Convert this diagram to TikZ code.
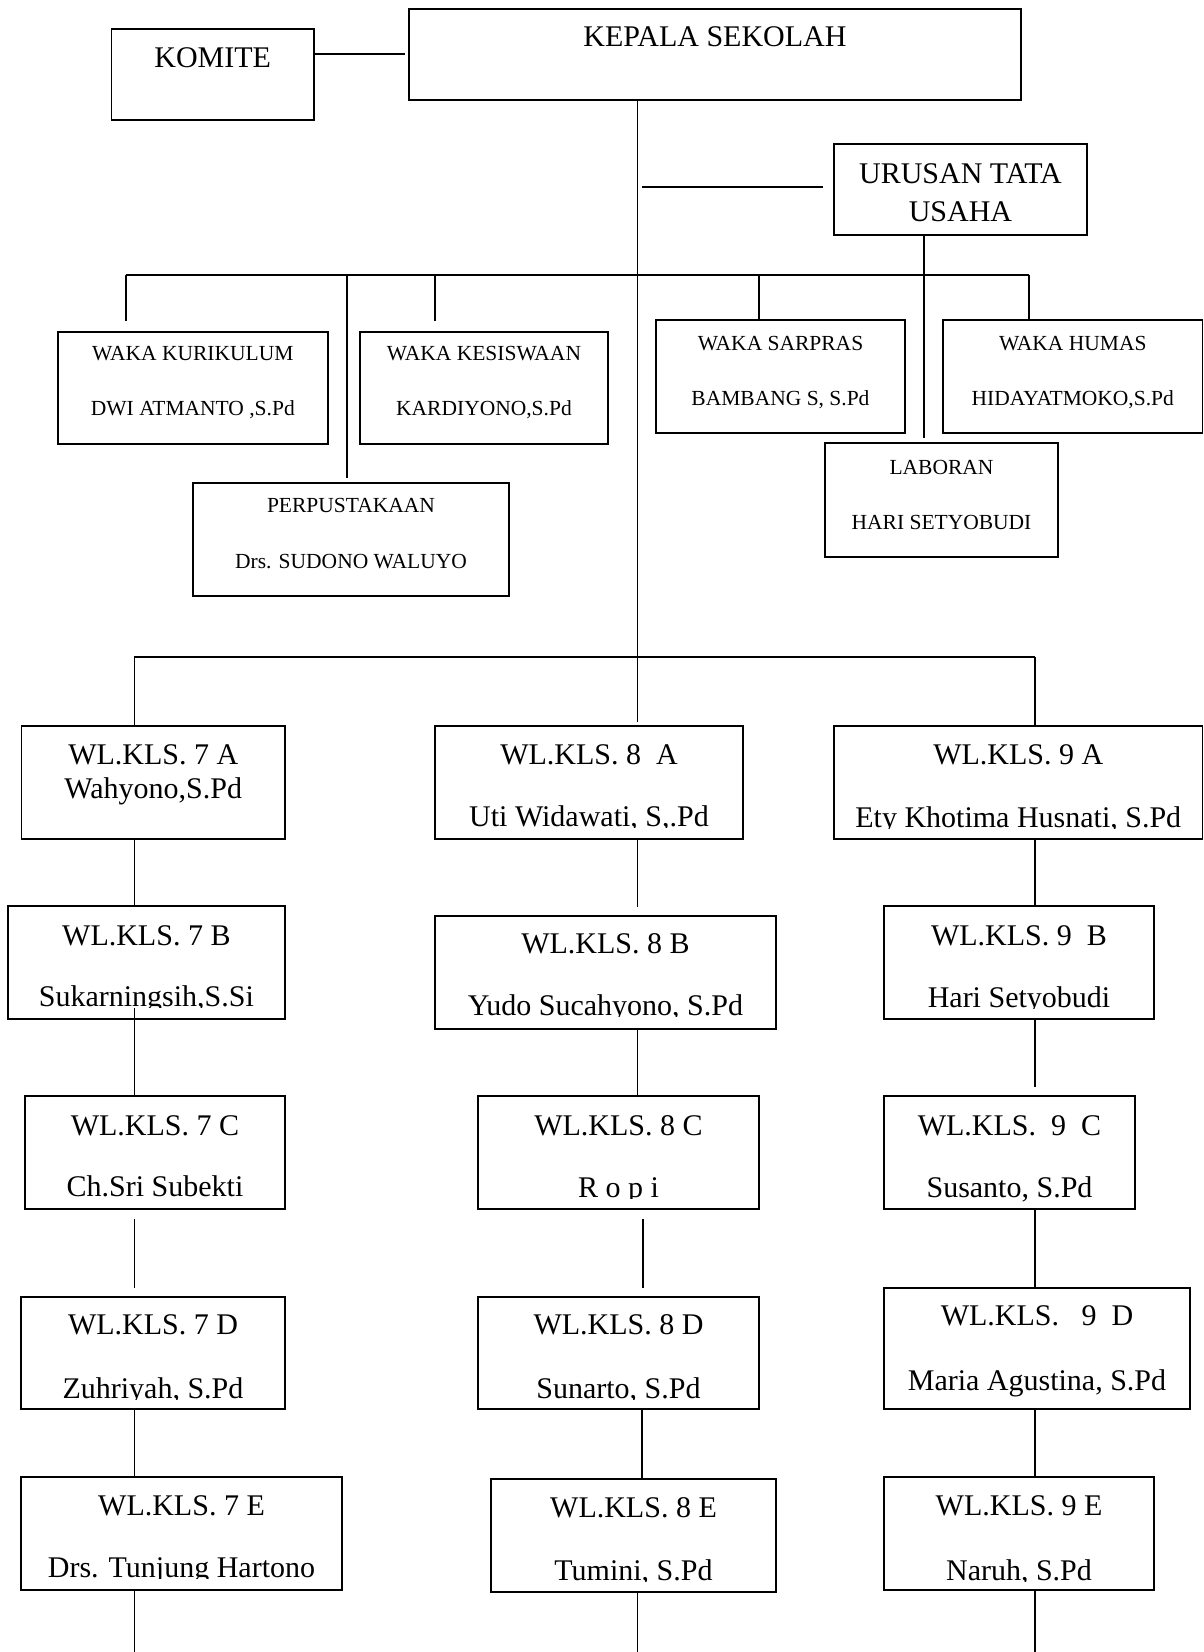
\documentclass[tikz,border=0pt]{standalone}
\usepackage{fontspec}
\setmainfont{Liberation Serif}
\newcommand{\bigf}{\fontsize{30}{36}\selectfont}
\newcommand{\smallf}{\fontsize{21.5}{26}\selectfont}
\tikzset{
  box/.style={draw=black, line width=1.8pt, inner sep=0pt, outer sep=0pt},
  conn/.style={draw=black, line width=1.3pt},
  bigt/.style={font=\bigf, inner sep=0pt},
  smallt/.style={font=\smallf, inner sep=0pt},
}
% name, x1, y1, x2, y2, clip bottom, text lines
\newcommand{\cbox}[7]{%
  \node[box, minimum width={(#4-#2)*1pt}, minimum height={(#5-#3)*1pt}] (#1) at ({(#2+#4)/2},{(#3+#5)/2}) {};
  \begin{scope}
    \clip ({#2+1},{#3+1}) rectangle ({#4-1},{#6});
    \def\cx{(#2+#4)/2}%
    #7
  \end{scope}}
\newcommand{\tl}[4]{\node[#2, anchor=base] (#1) at ({\cx},{#3}) {#4};}
\begin{document}
\begin{tikzpicture}[x=1pt,y=-1pt]
\useasboundingbox[fill=white] (0,0) rectangle (1204,1652);

% top level
\cbox{komite}{111.5}{29}{314}{120}{120}{\tl{komite-t}{bigt}{67}{KOMITE}}
\cbox{kepala}{409}{9}{1021}{100}{100}{\tl{kepala-t}{bigt}{46.7}{KEPALA SEKOLAH}}
\cbox{urusan}{834}{144}{1087}{235}{235}{\tl{urusan-a}{bigt}{183}{URUSAN TATA}\tl{urusan-b}{bigt}{221.7}{USAHA}}

% wakil
\cbox{kurik}{57.7}{332}{328}{444}{444}{\tl{kurik-a}{smallt}{360.7}{WAKA KURIKULUM}\tl{kurik-b}{smallt}{415.7}{DWI ATMANTO ,S.Pd}}
\cbox{kesis}{360}{332}{608}{444}{444}{\tl{kesis-a}{smallt}{360.7}{WAKA KESISWAAN}\tl{kesis-b}{smallt}{415.7}{KARDIYONO,S.Pd}}
\cbox{sarpras}{656}{320}{905}{433}{433}{\tl{sarpras-a}{smallt}{350}{WAKA SARPRAS}\tl{sarpras-b}{smallt}{405}{BAMBANG S, S.Pd}}
\cbox{humas}{943}{320}{1202.5}{433}{433}{\tl{humas-a}{smallt}{350}{WAKA HUMAS}\tl{humas-b}{smallt}{405}{HIDAYATMOKO,S.Pd}}
\cbox{labor}{825}{443}{1058}{557}{557}{\tl{labor-a}{smallt}{474}{LABORAN}\tl{labor-b}{smallt}{529}{HARI SETYOBUDI}}
\cbox{perpus}{193}{483}{509}{596}{596}{\tl{perpus-a}{smallt}{512.7}{PERPUSTAKAAN}\tl{perpus-b}{smallt}{568}{Drs. SUDONO WALUYO}}

% class 7
\cbox{k7a}{21.5}{726}{285}{839}{839}{\tl{k7a-a}{bigt}{764}{WL.KLS. 7 A}\tl{k7a-b}{bigt}{798}{Wahyono,S.Pd}}
\cbox{k7b}{7.7}{906}{285}{1019}{1007.7}{\tl{k7b-a}{bigt}{945}{WL.KLS. 7 B}\tl{k7b-b}{bigt}{1006.7}{Sukarningsih,S.Si}}
\cbox{k7c}{25}{1096}{285}{1209}{1209}{\tl{k7c-a}{bigt}{1135}{WL.KLS. 7 C}\tl{k7c-b}{bigt}{1196.7}{Ch.Sri Subekti}}
\cbox{k7d}{21}{1297}{285}{1409}{1399}{\tl{k7d-a}{bigt}{1334}{WL.KLS. 7 D}\tl{k7d-b}{bigt}{1398}{Zuhriyah, S.Pd}}
\cbox{k7e}{21}{1477}{342}{1590}{1578}{\tl{k7e-a}{bigt}{1515}{WL.KLS. 7 E}\tl{k7e-b}{bigt}{1577}{Drs. Tunjung Hartono}}

% class 8
\cbox{k8a}{435}{726}{743}{839}{827.7}{\tl{k8a-a}{bigt}{764}{WL.KLS. 8\ \ A}\tl{k8a-b}{bigt}{826.7}{Uti Widawati, S,.Pd}}
\cbox{k8b}{435}{916}{776}{1029}{1016}{\tl{k8b-a}{bigt}{953}{WL.KLS. 8 B}\tl{k8b-b}{bigt}{1015}{Yudo Sucahyono, S.Pd}}
\cbox{k8c}{478}{1096}{759}{1209}{1198}{\tl{k8c-a}{bigt}{1135}{WL.KLS. 8 C}\tl{k8c-b}{bigt}{1197}{R o p i}}
\cbox{k8d}{478}{1297}{759}{1409}{1399}{\tl{k8d-a}{bigt}{1334}{WL.KLS. 8 D}\tl{k8d-b}{bigt}{1398}{Sunarto, S.Pd}}
\cbox{k8e}{491}{1479}{776}{1592}{1581}{\tl{k8e-a}{bigt}{1517}{WL.KLS. 8 E}\tl{k8e-b}{bigt}{1580}{Tumini, S.Pd}}

% class 9
\cbox{k9a}{834}{726}{1202.5}{839}{828}{\tl{k9a-a}{bigt}{764}{WL.KLS. 9 A}\tl{k9a-b}{bigt}{827}{Ety Khotima Husnati, S.Pd}}
\cbox{k9b}{884}{906}{1154}{1019}{1008}{\tl{k9b-a}{bigt}{945}{WL.KLS. 9\ \ B}\tl{k9b-b}{bigt}{1007}{Hari Setyobudi}}
\cbox{k9c}{884}{1096}{1135}{1209}{1201}{\tl{k9c-a}{bigt}{1135}{WL.KLS.\ \ 9\ \ C}\tl{k9c-b}{bigt}{1197}{Susanto, S.Pd}}
\cbox{k9d}{884}{1288}{1190}{1409}{1409}{\tl{k9d-a}{bigt}{1325}{WL.KLS.\ \ \ 9\ \ D}\tl{k9d-b}{bigt}{1390}{Maria Agustina, S.Pd}}
\cbox{k9e}{884}{1477}{1154}{1590}{1581}{\tl{k9e-a}{bigt}{1515}{WL.KLS. 9 E}\tl{k9e-b}{bigt}{1580}{Naruh, S.Pd}}

% reference coordinates
\coordinate (trunk) at (637.7,0);
\coordinate (c7) at (134.3,0);
\coordinate (c9) at (1035,0);
\coordinate (ktu) at (924,0);
\coordinate (komA) at (405,54);
\coordinate (tuA) at (642,187);
\coordinate (tuB) at (823,187);
\coordinate (barL) at (126,275);
\coordinate (barR) at (1029,275);
\coordinate (dKur) at (126,321);
\coordinate (dPer) at (347,478);
\coordinate (dKes) at (435,321);
\coordinate (dLab) at (924,438);
\coordinate (dSar) at (759,275);
\coordinate (lowL) at (134.3,657);
\coordinate (lowR) at (1035,657);
\coordinate (t8a) at (637.7,722);
\coordinate (t8b) at (637.7,907);
\coordinate (s7b) at (134.3,1008);
\coordinate (s9c) at (1035,1087);
\coordinate (s7c) at (134.6,1219);
\coordinate (s7d) at (134.6,1288);
\coordinate (s8c) at (643,1219);
\coordinate (s8d) at (643,1288);
\coordinate (x8d) at (642,0);
\coordinate (bot) at (0,1652);

% connectors
\draw[conn] (komite.east |- komA) -- (komA);
\draw[conn] (trunk |- kepala.south) -- (t8a);
\draw[conn] (tuA) -- (tuB);
\draw[conn] (ktu |- urusan.south) -- (dLab);
\draw[conn] (barL) -- (barR);
\draw[conn] (barL) -- (dKur);
\draw[conn] (dPer |- barL) -- (dPer);
\draw[conn] (dKes |- barL) -- (dKes);
\draw[conn] (dSar) -- (dSar |- sarpras.north);
\draw[conn] (barR) -- (barR |- humas.north);
\draw[conn] (lowL) -- (lowR);
\draw[conn] (lowL) -- (lowL |- k7a.north);
\draw[conn] (lowR) -- (lowR |- k9a.north);

\draw[conn] (c7 |- k7a.south) -- (c7 |- k7b.north);
\draw[conn] (s7b) -- (c7 |- k7c.north);
\draw[conn] (s7c) -- (s7d);
\draw[conn] (c7 |- k7d.south) -- (c7 |- k7e.north);
\draw[conn] (c7 |- k7e.south) -- (c7 |- bot);

\draw[conn] (trunk |- k8a.south) -- (t8b);
\draw[conn] (trunk |- k8b.south) -- (trunk |- k8c.north);
\draw[conn] (s8c) -- (s8d);
\draw[conn] (x8d |- k8d.south) -- (x8d |- k8e.north);
\draw[conn] (trunk |- k8e.south) -- (trunk |- bot);

\draw[conn] (c9 |- k9a.south) -- (c9 |- k9b.north);
\draw[conn] (c9 |- k9b.south) -- (s9c);
\draw[conn] (c9 |- k9c.south) -- (c9 |- k9d.north);
\draw[conn] (c9 |- k9d.south) -- (c9 |- k9e.north);
\draw[conn] (c9 |- k9e.south) -- (c9 |- bot);
\end{tikzpicture}
\end{document}
